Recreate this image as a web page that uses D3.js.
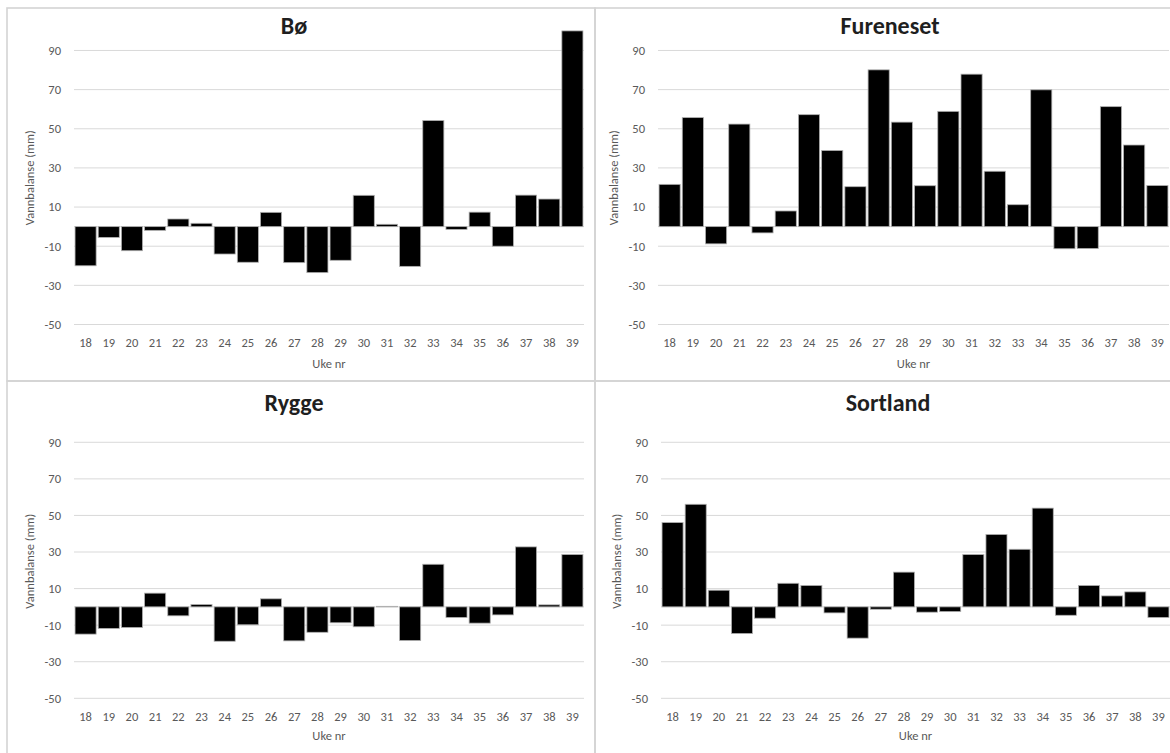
<!DOCTYPE html>
<html>
<head>
<meta charset="utf-8">
<script src="https://cdn.jsdelivr.net/npm/d3@7"></script>
<style>
  body { margin: 0; background: #fff; }
  .canvas { width: 1170px; height: 753px; overflow: hidden; }
  text { font-family: Carlito, Calibri, Lato, sans-serif; }
</style>
</head>
<body>
<div class="canvas"></div>
<script>
// weeks and values (mm)
const weeks = [18,19,20,21,22,23,24,25,26,27,28,29,30,31,32,33,34,35,36,37,38,39];
const yTicks = [-50,-30,-10,10,30,50,70,90];

const bo        = [-20,-5.5,-12.3,-1.9,3.9,1.7,-14,-18.2,7.3,-18.4,-23.5,-17.2,16,1.2,-20.3,54.2,-1.4,7.4,-10,16.1,14.1,100];
const fureneset = [21.6,55.7,-8.8,52.4,-3.2,8,57.2,38.9,20.4,80.1,53.4,20.9,58.9,77.9,28.3,11.2,69.9,-11.3,-11.2,61.3,41.7,21];
const rygge     = [-14.9,-11.8,-11.3,7.5,-4.9,1.3,-18.8,-9.8,4.4,-18.6,-13.9,-8.7,-10.9,0.3,-18.4,23.3,-5.8,-8.9,-4.4,32.8,1.1,28.6];
const sortland  = [46.1,56.1,9.1,-14.6,-6.2,12.9,11.7,-3.3,-17.1,-1.3,19,-2.9,-2.6,28.6,39.6,31.5,54,-4.6,11.7,6,8.2,-5.8];

const W = 1170, H = 753;

//panel boxes (border) and plot areas
const panels = [
  {title:'Bø',        values:bo,        box:[7,8,595,381],    plot:{l:74, r:584, t:30.9, b:324.5}, titleX:294, titleY:34,  tickY:347, axY:368},
  {title:'Fureneset', values:fureneset, box:[595,8,1190,381], plot:{l:658,r:1169,t:30.9, b:324.5}, titleX:890, titleY:34,  tickY:347, axY:368},
  {title:'Rygge',     values:rygge,     box:[7,381,595,770],  plot:{l:74, r:584, t:424,  b:698.3}, titleX:294, titleY:411, tickY:721, axY:740},
  {title:'Sortland',  values:sortland,  box:[595,381,1190,770],plot:{l:661,r:1170,t:424,  b:698.3}, titleX:888, titleY:411, tickY:721, axY:740}
];

const svg = d3.select('.canvas')
  .append('svg')
  .attr('width', W)
  .attr('height', H);

panels.forEach(p => {
  const g = svg.append('g');
  const pl = p.plot;

  const x = d3.scaleBand()
    .domain(weeks)
    .range([pl.l, pl.r])
    .paddingInner(0.09)
    .paddingOuter(0.045);

  const y = d3.scaleLinear()
    .domain([-50, 100])
    .range([pl.b, pl.t]);

  //border
  g.append('rect')
    .attr('x', p.box[0]).attr('y', p.box[1])
    .attr('width', p.box[2]-p.box[0]).attr('height', p.box[3]-p.box[1])
    .attr('fill', 'none')
    .attr('stroke', '#d4d4d4')
    .attr('stroke-width', 1.6);

  //gridlines
  g.selectAll('.grid')
    .data(yTicks)
    .enter()
    .append('line')
    .attr('x1', pl.l).attr('x2', pl.r)
    .attr('y1', d => y(d)).attr('y2', d => y(d))
    .attr('stroke', '#d9d9d9')
    .attr('stroke-width', 1);

  //zero axis
  g.append('line')
    .attr('x1', pl.l).attr('x2', pl.r)
    .attr('y1', y(0)).attr('y2', y(0))
    .attr('stroke', '#d9d9d9');

  //y tick labels
  g.selectAll('.ylab')
    .data(yTicks)
    .enter()
    .append('text')
    .attr('x', pl.l - 13)
    .attr('y', d => y(d))
    .attr('dy', '0.35em')
    .attr('text-anchor', 'end')
    .attr('font-size', 12.5)
    .attr('fill', '#595959')
    .text(d => d);

  //bars
  g.selectAll('.bar')
    .data(p.values)
    .enter()
    .append('rect')
    .attr('x', (d,i) => x(weeks[i]))
    .attr('width', x.bandwidth())
    .attr('y', d => y(Math.max(0, d)))
    .attr('height', d => Math.abs(y(d) - y(0)))
    .attr('fill', '#000')
    .attr('stroke', '#b0b0b0')
    .attr('stroke-width', 0.8);

  //x tick labels
  g.selectAll('.xlab')
    .data(weeks)
    .enter()
    .append('text')
    .attr('x', d => x(d) + x.bandwidth()/2)
    .attr('y', p.tickY)
    .attr('text-anchor', 'middle')
    .attr('font-size', 12.5)
    .attr('fill', '#595959')
    .text(d => d);

  //axis titles
  g.append('text')
    .attr('x', (pl.l + pl.r)/2)
    .attr('y', p.axY)
    .attr('text-anchor', 'middle')
    .attr('font-size', 12.5)
    .attr('fill', '#595959')
    .text('Uke nr');

  g.append('text')
    .attr('transform', `translate(${pl.l - 40},${(pl.t + pl.b)/2}) rotate(-90)`)
    .attr('text-anchor', 'middle')
    .attr('font-size', 12.5)
    .attr('fill', '#595959')
    .text('Vannbalanse (mm)');

  //title
  g.append('text')
    .attr('x', p.titleX)
    .attr('y', p.titleY)
    .attr('text-anchor', 'middle')
    .attr('font-size', 24)
    .attr('font-weight', 'bold')
    .attr('fill', '#1f1f1f')
    .text(p.title);
});
</script>
</body>
</html>
